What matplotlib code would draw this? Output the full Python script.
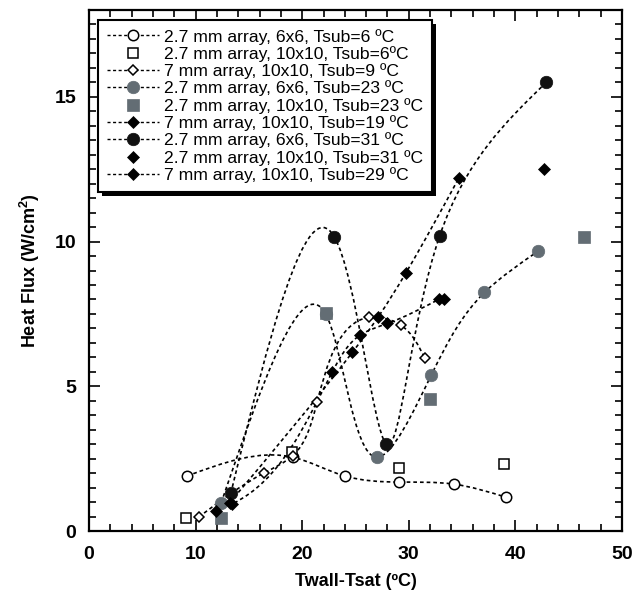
import numpy as np
import matplotlib
matplotlib.use("Agg")
import matplotlib.pyplot as plt
from matplotlib.path import Path
from matplotlib.patches import PathPatch, Rectangle
from matplotlib.lines import Line2D

plt.rcParams['font.family'] = ['Liberation Sans', 'DejaVu Sans']
plt.rcParams['mathtext.fontset'] = 'custom'
plt.rcParams['mathtext.bf'] = 'Liberation Sans:bold'
plt.rcParams['mathtext.rm'] = 'Liberation Sans'

# ---- data ----
labels = [
    "2.7 mm array, 6x6, Tsub=6 ºC",
    "2.7 mm array, 10x10, Tsub=6ºC",
    "7 mm array, 10x10, Tsub=9 ºC",
    "2.7 mm array, 6x6, Tsub=23 ºC",
    "2.7 mm array, 10x10, Tsub=23 ºC",
    "7 mm array, 10x10, Tsub=19 ºC",
    "2.7 mm array, 6x6, Tsub=31 ºC",
    "2.7 mm array, 10x10, Tsub=31 ºC",
    "7 mm array, 10x10, Tsub=29 ºC",
]
x1 = [9.2, 19.1, 24.0, 29.1, 34.2, 39.1]
y1 = [1.9, 2.55, 1.9, 1.69, 1.62, 1.17]
x2 = [9.1, 19.0, 29.1, 38.9]
y2 = [0.45, 2.72, 2.17, 2.31]
x3 = [10.3, 16.4, 19.1, 21.4, 26.3, 29.3, 31.5]
y3 = [0.48, 2.0, 2.6, 4.45, 7.38, 7.1, 5.97]
x4 = [12.4, 22.2, 27.0, 32.1, 37.1, 42.1]
y4 = [0.97, 7.5, 2.55, 5.38, 8.24, 9.66]
x5 = [12.4, 22.2, 32.0, 46.4]
y5 = [0.45, 7.52, 4.55, 10.17]
x6 = [11.9, 13.4, 22.8, 25.4, 28.0, 32.8]
y6 = [0.7, 0.93, 5.48, 6.76, 7.17, 8.0]
x7 = [13.3, 23.0, 27.9, 32.9, 42.9]
y7 = [1.3, 10.17, 3.0, 10.2, 15.5]
x8 = [33.3, 42.7]
y8 = [8.0, 12.5]
x9 = [13.2, 24.7, 27.1, 29.7, 34.7]
y9 = [0.98, 6.17, 7.38, 8.9, 12.2]

xticks = [0, 10, 20, 30, 40, 50]
yticks = [0, 5, 10, 15]

GRAY = '#636d74'
series = [
    (x1, y1, dict(marker='o', ms=7.5, mfc='white', mec='black', mew=1.1), True),
    (x2, y2, dict(marker='s', ms=7.0, mfc='white', mec='black', mew=1.1), False),
    (x3, y3, dict(marker='D', ms=5.0, mfc='white', mec='black', mew=1.1), True),
    (x4, y4, dict(marker='o', ms=9.0, mfc=GRAY, mec=GRAY, mew=0.5), True),
    (x5, y5, dict(marker='s', ms=8.0, mfc=GRAY, mec=GRAY, mew=0.5), False),
    (x6, y6, dict(marker='D', ms=6.5, mfc='black', mec='black', mew=0.5), True),
    (x7, y7, dict(marker='o', ms=9.0, mfc='#111111', mec='#111111', mew=0.5), True),
    (x8, y8, dict(marker='D', ms=6.5, mfc='black', mec='black', mew=0.5), False),
    (x9, y9, dict(marker='D', ms=6.5, mfc='black', mec='black', mew=0.5), True),
]

def nat_derivs(t, v):
    n = len(t)
    h = np.diff(t)
    A = np.zeros((n, n)); b = np.zeros(n)
    A[0, 0] = 1; A[-1, -1] = 1
    for i in range(1, n - 1):
        A[i, i - 1] = h[i - 1]
        A[i, i] = 2 * (h[i - 1] + h[i])
        A[i, i + 1] = h[i]
        b[i] = 6 * ((v[i + 1] - v[i]) / h[i] - (v[i] - v[i - 1]) / h[i - 1])
    M = np.linalg.solve(A, b)
    s = np.diff(v) / h
    d0 = s - h * (2 * M[:-1] + M[1:]) / 6
    d1 = s + h * (M[:-1] + 2 * M[1:]) / 6
    return h, d0, d1

def spline_path(x, y, sx=10.66, sy=28.9):
    x = np.asarray(x, float); y = np.asarray(y, float)
    # parametric spline, chord length measured in screen-like units
    seg = np.hypot(np.diff(x) * sx, np.diff(y) * sy)
    t = np.concatenate([[0], np.cumsum(seg)])
    h, dx0, dx1 = nat_derivs(t, x)
    _, dy0, dy1 = nat_derivs(t, y)
    verts = [(x[0], y[0])]
    codes = [Path.MOVETO]
    for i in range(len(x) - 1):
        hi = h[i] / 3
        verts += [(x[i] + hi * dx0[i], y[i] + hi * dy0[i]),
                  (x[i + 1] - hi * dx1[i], y[i + 1] - hi * dy1[i]),
                  (x[i + 1], y[i + 1])]
        codes += [Path.CURVE4] * 3
    return Path(verts, codes)

fig = plt.figure(figsize=(6.44, 5.93), dpi=100)
ax = fig.add_axes([89 / 644, 62 / 593, 533 / 644, 521 / 593])

DASH = (0, (2.2, 1.8))
for (x, y, mk, line) in series:
    if line:
        ax.add_patch(PathPatch(spline_path(x, y), fill=False, edgecolor='black',
                               lw=1.2, linestyle=DASH, zorder=2))
for (x, y, mk, line) in series:
    ax.plot(x, y, linestyle='none', zorder=3, **mk)

ax.set_xlim(0, 50)
ax.set_ylim(0, 18)
ax.set_xticks(xticks)
ax.set_yticks(yticks)
ax.set_xticks(np.arange(0, 50.1, 2), minor=True)
ax.set_yticks(np.arange(0, 18.01, 0.5), minor=True)
ax.tick_params(which='both', direction='in', top=True, right=True, width=1.2)
ax.tick_params(which='major', length=8, labelsize=14)
ax.tick_params(axis='x', which='major', pad=11)
ax.tick_params(axis='y', which='major', pad=9)
ax.tick_params(which='minor', length=5)
for lab in ax.get_xticklabels() + ax.get_yticklabels():
    lab.set_fontweight('bold')
for sp in ax.spines.values():
    sp.set_linewidth(1.6)

ax.set_xlabel('Twall-Tsat (ºC)', fontsize=13, fontweight='bold', labelpad=7)
ax.set_ylabel(r'Heat Flux (W/cm$^\mathbf{2}$)', fontsize=13, fontweight='bold', labelpad=9)

handles = []
for (x, y, mk, line) in series:
    handles.append(Line2D([], [], color='black', lw=1.0 if line else 0,
                          linestyle=DASH if line else 'none', **mk))
leg = ax.legend(handles, labels, loc='upper left', bbox_to_anchor=(0.017, 0.981),
                borderaxespad=0, fontsize=12.6, handlelength=3.0, handletextpad=0.25,
                labelspacing=0.08, borderpad=0.5, fancybox=False, framealpha=1,
                edgecolor='black')
leg.get_frame().set_linewidth(1.5)
leg.set_zorder(6)

fig.canvas.draw()
bb = leg.get_window_extent()
shadow = Rectangle((bb.x0 + 4, bb.y0 - 4), bb.width, bb.height, transform=None,
                   facecolor='black', edgecolor='none', zorder=5, clip_on=False)
ax.add_artist(shadow)

fig.savefig('out.png', dpi=100)
